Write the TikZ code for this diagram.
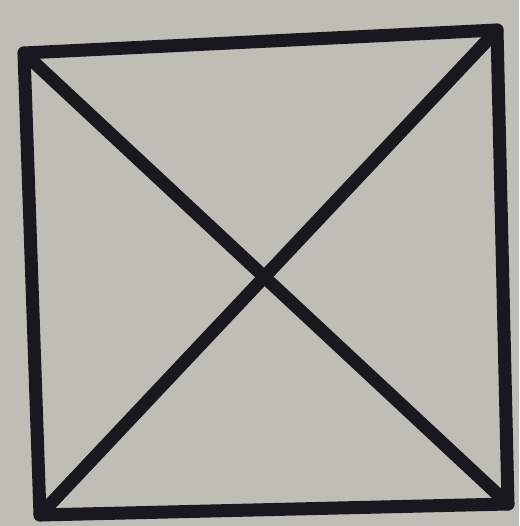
\documentclass[tikz,border=0pt]{standalone}
\definecolor{paper}{RGB}{190,190,183}
\definecolor{ink}{RGB}{24,24,30}
\begin{document}
\begin{tikzpicture}[x=1pt,y=-1pt,
  stroke/.style={draw=ink,line width=13pt,line cap=round,line join=round}]
\fill[paper] (0,0) rectangle (519,526);
\useasboundingbox (0,0) rectangle (519,526);
\coordinate (tl) at (24,53);
\coordinate (tr) at (497,30);
\coordinate (br) at (508,504);
\coordinate (bl) at (40,515);
\draw[stroke] (tl) -- (tr) -- (br) -- (bl) -- cycle;
\draw[stroke] (tl) -- (br);
\draw[stroke] (tr) -- (bl);
\end{tikzpicture}
\end{document}
